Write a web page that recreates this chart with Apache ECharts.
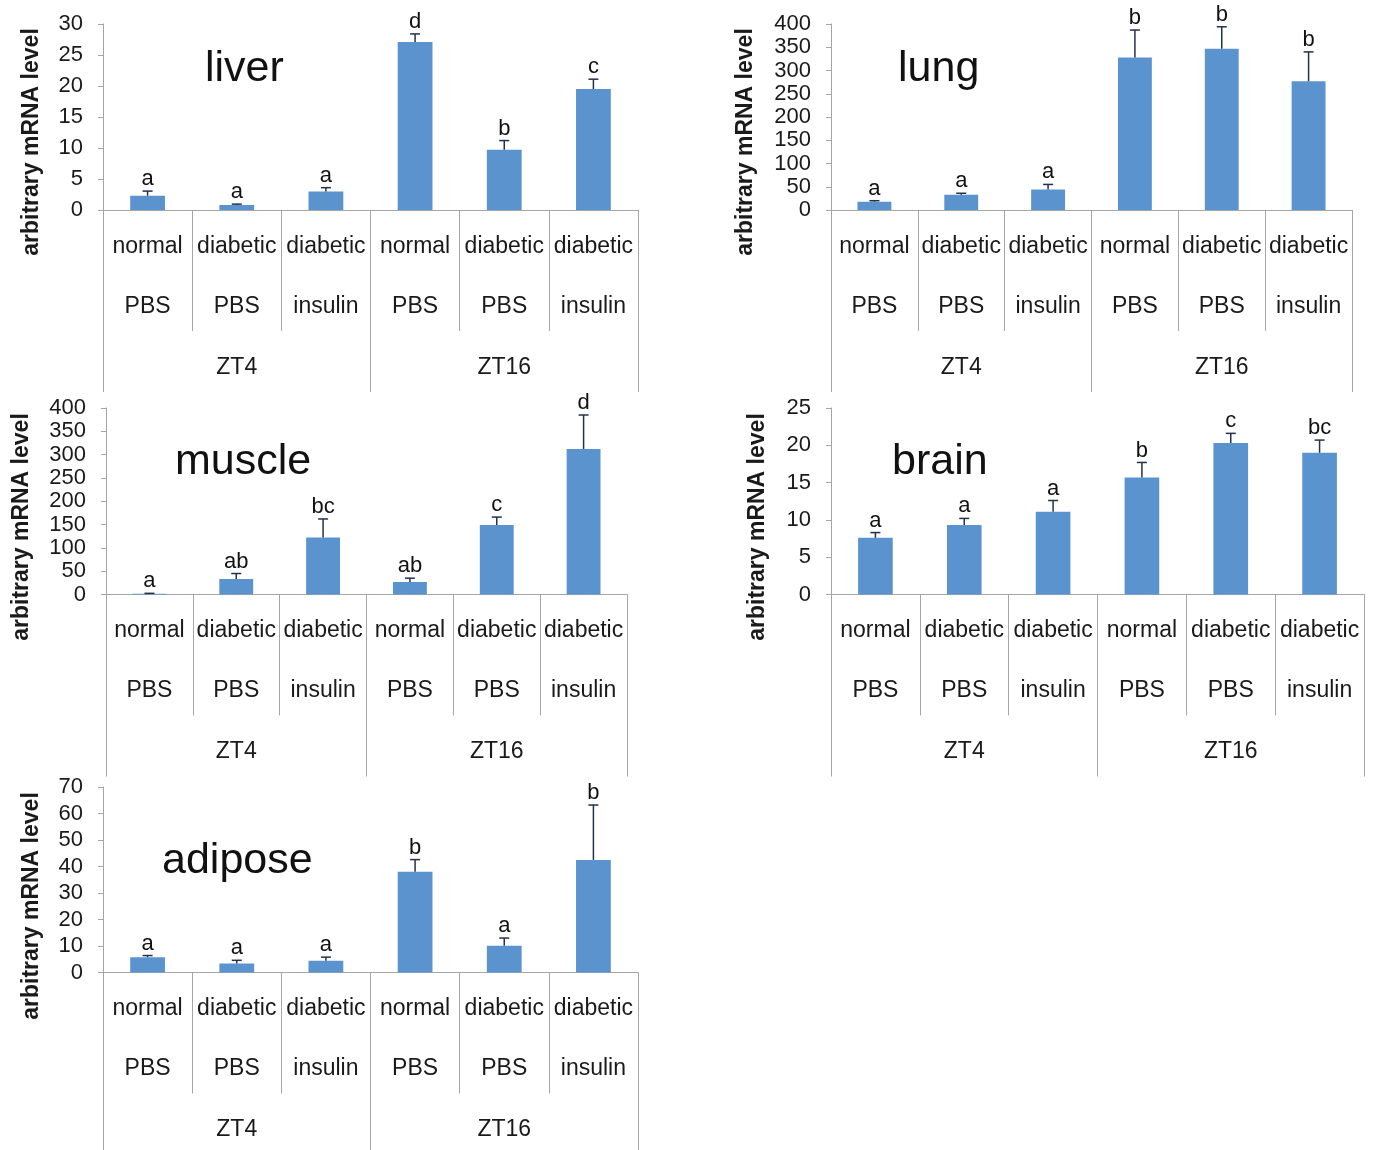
<!DOCTYPE html>
<html>
<head>
<meta charset="utf-8">
<script src="https://cdn.jsdelivr.net/npm/echarts@6/dist/echarts.min.js"></script>
<style>
html,body{margin:0;padding:0;background:#fff;}
#chart{width:1375px;height:1150px;}
</style>
</head>
<body>
<div id="chart"></div>
<script>
// ---- categories ----
const treatments = ['normal', 'diabetic', 'diabetic', 'normal', 'diabetic', 'diabetic'];
const agents = ['PBS', 'PBS', 'insulin', 'PBS', 'PBS', 'insulin'];
const times = ['ZT4', 'ZT16'];
const yAxisTitle = 'arbitrary mRNA level';

// ---- liver ----
const liverMean = [2.3, 0.8, 3.0, 27.1, 9.7, 19.5];
const liverErr = [0.75, 0.15, 0.6, 1.3, 1.5, 1.6];
const liverLetters = ['a', 'a', 'a', 'd', 'b', 'c'];
// ---- lung ----
const lungMean = [18, 33, 44, 328, 347, 277];
const lungErr = [2, 3, 11, 59, 47, 63];
const lungLetters = ['a', 'a', 'a', 'b', 'b', 'b'];
// ---- muscle ----
const muscleMean = [1.5, 33, 122, 27, 149, 312];
const muscleErr = [1, 12, 40, 8, 17, 73];
const muscleLetters = ['a', 'ab', 'bc', 'ab', 'c', 'd'];
// ---- brain ----
const brainMean = [7.6, 9.3, 11.1, 15.7, 20.3, 19.0];
const brainErr = [0.7, 0.9, 1.5, 2.0, 1.3, 1.7];
const brainLetters = ['a', 'a', 'a', 'b', 'c', 'bc'];
// ---- adipose ----
const adiposeMean = [5.8, 3.4, 4.4, 38, 10.1, 42.5];
const adiposeErr = [0.6, 1.2, 1.4, 4.6, 2.9, 20.7];
const adiposeLetters = ['a', 'a', 'a', 'b', 'a', 'b'];
// ---- y axis ranges ----
const yMaxes = [30, 400, 400, 25, 70];
const ySteps = [5, 50, 50, 5, 10];

const FONT = "'Liberation Sans', Arial, sans-serif";
const BAR = '#5b93cf';
const AXIS = '#a6a6a6';
const TXT = '#1a1a1a';
const ERR = '#22324a';

const panels = [
  { name: 'liver', mean: liverMean, err: liverErr, letters: liverLetters,
    grid: { left: 103, top: 24, width: 535, height: 186 }, title: [205, 69], yName: [32, 142] },
  { name: 'lung', mean: lungMean, err: lungErr, letters: lungLetters,
    grid: { left: 831, top: 24, width: 521, height: 186 }, title: [898, 69], yName: [746, 142] },
  { name: 'muscle', mean: muscleMean, err: muscleErr, letters: muscleLetters,
    grid: { left: 106, top: 408, width: 521, height: 186.5 }, title: [175, 462], yName: [22, 527] },
  { name: 'brain', mean: brainMean, err: brainErr, letters: brainLetters,
    grid: { left: 831, top: 408, width: 533, height: 186.5 }, title: [892, 462], yName: [758, 527] },
  { name: 'adipose', mean: adiposeMean, err: adiposeErr, letters: adiposeLetters,
    grid: { left: 103, top: 787, width: 535, height: 185.5 }, title: [162, 861], yName: [32, 906] }
];

const idx = treatments.map((_, i) => String(i));
const grids = [], xAxes = [], yAxes = [], series = [], graphics = [];

panels.forEach((p, i) => {
  grids.push(Object.assign({ containLabel: false }, p.grid));
  const base = { gridIndex: i, type: 'category', position: 'bottom', splitLine: { show: false } };
  xAxes.push(Object.assign({}, base, {
    data: idx,
    axisLine: { show: true, lineStyle: { color: AXIS, width: 1 } },
    axisTick: { show: true, interval: 0, length: 121, lineStyle: { color: AXIS, width: 1 } },
    axisLabel: { interval: 0, margin: 25, fontSize: 23, color: TXT, fontFamily: FONT,
      formatter: (v, j) => treatments[j] }
  }));
  xAxes.push(Object.assign({}, base, {
    data: idx,
    axisLine: { show: false }, axisTick: { show: false },
    axisLabel: { interval: 0, margin: 85, fontSize: 23, color: TXT, fontFamily: FONT,
      formatter: (v, j) => agents[j] }
  }));
  xAxes.push(Object.assign({}, base, {
    data: times,
    axisLine: { show: false },
    axisTick: { show: true, interval: 0, length: 182, lineStyle: { color: AXIS, width: 1 } },
    axisLabel: { interval: 0, margin: 146, fontSize: 23, color: TXT, fontFamily: FONT }
  }));
  yAxes.push({
    gridIndex: i, type: 'value', min: 0, max: yMaxes[i], interval: ySteps[i],
    splitLine: { show: false },
    axisLine: { show: true, lineStyle: { color: AXIS, width: 1 } },
    axisTick: { show: true, length: 5, lineStyle: { color: AXIS } },
    axisLabel: { margin: 20, fontSize: 22, color: TXT, fontFamily: FONT }
  });
  series.push({
    type: 'bar', xAxisIndex: i * 3, yAxisIndex: i, data: p.mean,
    barWidth: '39%', itemStyle: { color: BAR }, silent: true
  });
  series.push({
    type: 'custom', xAxisIndex: i * 3, yAxisIndex: i, silent: true, z: 5,
    data: p.mean.map((m, j) => [j, m, m + p.err[j]]),
    renderItem: (params, api) => {
      const b = api.coord([api.value(0), api.value(1)]);
      const t = api.coord([api.value(0), api.value(2)]);
      return {
        type: 'group',
        children: [
          { type: 'line', shape: { x1: b[0], y1: b[1], x2: b[0], y2: t[1] },
            style: { stroke: ERR, lineWidth: 1.5 } },
          { type: 'line', shape: { x1: b[0] - 5, y1: t[1], x2: b[0] + 5, y2: t[1] },
            style: { stroke: ERR, lineWidth: 1.5 } },
          { type: 'text', x: b[0], y: t[1] - 1,
            style: { text: p.letters[params.dataIndex], textAlign: 'center', verticalAlign: 'bottom',
              font: '22px ' + FONT, fill: '#111' } }
        ]
      };
    }
  });
  graphics.push({
    type: 'text', x: p.title[0], y: p.title[1],
    style: { text: p.name, font: '43px ' + FONT, fill: '#111', textAlign: 'left', verticalAlign: 'middle' }
  });
  graphics.push({
    type: 'text', x: p.yName[0], y: p.yName[1], rotation: Math.PI / 2,
    style: { text: yAxisTitle, font: 'bold 23px ' + FONT, fill: '#1a1a1a', textAlign: 'center', verticalAlign: 'middle' }
  });
});

const chart = echarts.init(document.getElementById('chart'), null, { renderer: 'canvas' });
chart.setOption({
  animation: false,
  backgroundColor: '#fff',
  grid: grids,
  xAxis: xAxes,
  yAxis: yAxes,
  series: series,
  graphic: graphics
});
</script>
</body>
</html>
